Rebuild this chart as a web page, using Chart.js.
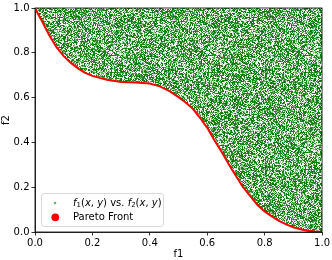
<!DOCTYPE html>
<html>
<head>
<meta charset="utf-8">
<script src="https://cdn.jsdelivr.net/npm/chart.js@4"></script>
<style>
  html, body { margin: 0; padding: 0; background: #fff; }
  #wrap { width: 332px; height: 260px; }
</style>
</head>
<body>
<div id="wrap"><canvas id="paretoChart" width="332" height="260"></canvas></div>
<script>
// Pareto front (f1, f2)
const frontF1 = [0, 0.014, 0.025, 0.05, 0.075, 0.1, 0.125, 0.15, 0.175, 0.2, 0.225, 0.25, 0.3, 0.35, 0.4, 0.435,
                 0.47, 0.5, 0.525, 0.55, 0.575, 0.6, 0.625, 0.65, 0.675, 0.7, 0.725, 0.75, 0.775, 0.8, 0.825,
                 0.85, 0.875, 0.9, 0.925, 0.95, 0.975, 1.0];
const frontF2 = [1.0, 0.965, 0.94, 0.877, 0.825, 0.785, 0.755, 0.73, 0.71, 0.697, 0.688, 0.68, 0.67, 0.667, 0.663, 0.65,
                 0.628, 0.602, 0.578, 0.55, 0.51, 0.465, 0.41, 0.358, 0.302, 0.25, 0.2, 0.16, 0.12, 0.092, 0.07,
                 0.05, 0.034, 0.021, 0.012, 0.006, 0.002, 0.0];
// the sampled cloud fills everything above its lower edge (= the front) up to f2 = 1
const cloudEdgeF1 = frontF1;
const cloudEdgeF2 = frontF2;

const xTicks = [0, 0.2, 0.4, 0.6, 0.8, 1.0];
const yTicks = [0, 0.2, 0.4, 0.6, 0.8, 1.0];
const cloudLabel = ['f', '1', '(x, y) vs. ', 'f', '2', '(x, y)'];
const frontLabel = 'Pareto Front';

const FONT = '"DejaVu Sans", sans-serif';

function toPoints(xs, ys) {
    return xs.map((x, i) => ({ x: x, y: ys[i] }));
}

// speckled texture so the filled region looks like a dense scatter of small dots
function makeSpeckle() {
    const size = 97;
    const c = document.createElement('canvas');
    c.width = size; c.height = size;
    const g = c.getContext('2d');
    const img = g.createImageData(size, size);
    const shades = [[255, 255, 255], [236, 246, 236], [160, 208, 160], [95, 170, 95], [40, 140, 40], [15, 128, 15], [0, 118, 0]];
    for (let y = 0; y < size; y++) {
        for (let x = 0; x < size; x++) {
            let h = (x * 374761393 + y * 668265263) | 0;
            h = Math.imul(h ^ (h >>> 13), 1274126177);
            h = (h ^ (h >>> 16)) >>> 0;
            const s = shades[h % shades.length];
            const k = (y * size + x) * 4;
            img.data[k] = s[0]; img.data[k + 1] = s[1]; img.data[k + 2] = s[2]; img.data[k + 3] = 255;
        }
    }
    g.putImageData(img, 0, 0);
    return g.createPattern(c, 'repeat');
}

const framePlugin = {
    id: 'frame',
    afterDraw(chart) {
        const { ctx, chartArea: a } = chart;
        ctx.save();
        ctx.strokeStyle = '#000';
        ctx.lineWidth = 0.8;
        ctx.strokeRect(a.left, a.top, a.right - a.left, a.bottom - a.top);
        ctx.restore();
    }
};

const legendPlugin = {
    id: 'innerLegend',
    afterDraw(chart) {
        const ctx = chart.ctx;
        const x0 = 41, y0 = 193, w = 122, h = 33;
        ctx.save();
        ctx.beginPath();
        ctx.roundRect(x0 + 0.5, y0 + 0.5, w, h, 2.5);
        ctx.fillStyle = 'rgba(255,255,255,0.8)';
        ctx.fill();
        ctx.strokeStyle = '#d0d0d0';
        ctx.lineWidth = 0.8;
        ctx.stroke();

        // markers
        ctx.fillStyle = 'rgba(0,128,0,0.6)';
        ctx.beginPath(); ctx.arc(55, 203, 1.3, 0, Math.PI * 2); ctx.fill();
        ctx.fillStyle = '#ff0000';
        ctx.beginPath(); ctx.arc(55.3, 217.3, 3.9, 0, Math.PI * 2); ctx.fill();

        // first entry, math style: italic f with subscript index
        ctx.fillStyle = '#000';
        ctx.textBaseline = 'middle';
        ctx.textAlign = 'left';
        let tx = 73;
        const ty = 203;
        const parts = [
            { t: cloudLabel[0], f: 'italic 10px ' + FONT, dy: 0 },
            { t: cloudLabel[1], f: '7px ' + FONT, dy: 2 },
            { t: '(', f: '10px ' + FONT, dy: 0 },
            { t: 'x', f: 'italic 10px ' + FONT, dy: 0 },
            { t: ', ', f: '10px ' + FONT, dy: 0 },
            { t: 'y', f: 'italic 10px ' + FONT, dy: 0 },
            { t: ') vs. ', f: '10px ' + FONT, dy: 0 },
            { t: cloudLabel[3], f: 'italic 10px ' + FONT, dy: 0 },
            { t: cloudLabel[4], f: '7px ' + FONT, dy: 2 },
            { t: '(', f: '10px ' + FONT, dy: 0 },
            { t: 'x', f: 'italic 10px ' + FONT, dy: 0 },
            { t: ', ', f: '10px ' + FONT, dy: 0 },
            { t: 'y', f: 'italic 10px ' + FONT, dy: 0 },
            { t: ')', f: '10px ' + FONT, dy: 0 }
        ];
        parts.forEach(p => {
            ctx.font = p.f;
            ctx.fillText(p.t, tx, ty + p.dy);
            tx += ctx.measureText(p.t).width;
        });
        ctx.font = '10px ' + FONT;
        ctx.fillText(frontLabel, 73, 217.5);
        ctx.restore();
    }
};

function axisOptions(title, ticks, isY) {
    return {
        type: 'linear',
        min: 0,
        max: 1,
        afterBuildTicks(scale) { scale.ticks = ticks.map(v => ({ value: v })); },
        afterFit(scale) {
            if (isY) scale.width = 35; else scale.height = 28;
        },
        ticks: {
            color: '#000',
            font: { family: FONT, size: 10 },
            padding: 2,
            maxRotation: 0,
            callback: v => v.toFixed(1)
        },
        grid: {
            drawOnChartArea: false,
            drawTicks: true,
            tickLength: 3.5,
            tickColor: '#000',
            tickWidth: 0.8
        },
        border: { display: true, color: '#000', width: 0.8 },
        title: {
            display: true,
            text: title,
            color: '#000',
            font: { family: FONT, size: 10 },
            padding: 0
        }
    };
}

document.addEventListener('DOMContentLoaded', function () {
    const ctx = document.getElementById('paretoChart');
    new Chart(ctx, {
        type: 'scatter',
        data: {
            datasets: [
                {
                    label: frontLabel,
                    data: toPoints(frontF1, frontF2),
                    showLine: true,
                    borderColor: '#ff0000',
                    borderWidth: 2,
                    pointRadius: 0,
                    fill: false,
                    order: 0
                },
                {
                    label: 'f1(x, y) vs. f2(x, y)',
                    data: toPoints(cloudEdgeF1, cloudEdgeF2),
                    showLine: true,
                    borderWidth: 0,
                    borderColor: 'rgba(0,0,0,0)',
                    backgroundColor: makeSpeckle(),
                    pointRadius: 0,
                    fill: 'end',
                    order: 1
                }
            ]
        },
        options: {
            responsive: false,
            animation: false,
            layout: { padding: { left: 0, top: 6, right: 9, bottom: 0 } },
            plugins: {
                legend: { display: false },
                tooltip: { enabled: false }
            },
            scales: {
                x: axisOptions('f1', xTicks, false),
                y: axisOptions('f2', yTicks, true)
            }
        },
        plugins: [framePlugin, legendPlugin]
    });
});
</script>
</body>
</html>
